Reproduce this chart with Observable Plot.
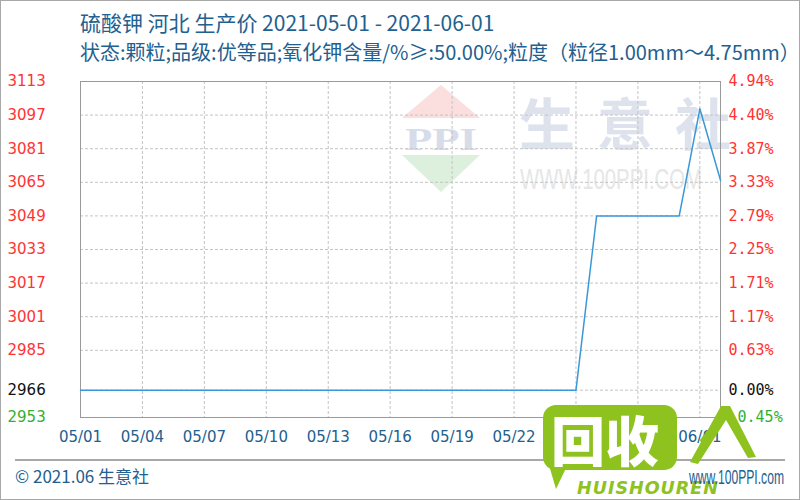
<!DOCTYPE html>
<html>
<head>
<meta charset="utf-8">
<script src="https://cdn.jsdelivr.net/npm/d3@7"></script>
<script src="https://cdn.jsdelivr.net/npm/@observablehq/plot@0.6"></script>
<style>
  html, body { margin: 0; padding: 0; background: #fff; }
  #wrap { position: relative; width: 800px; height: 500px; overflow: hidden; background: #fff; font-family: "Noto Sans CJK SC", "Noto Sans", sans-serif; }
  #chart { position: absolute; left: 0; top: 0; z-index: 2; }
  #wm { position: absolute; left: 0; top: 0; z-index: 1; }
  .txt { position: absolute; white-space: nowrap; color: #22608f; z-index: 3; }
  #border { position: absolute; left: 0; top: 0; width: 798px; height: 498px; border: 1px solid #a8a8a8; z-index: 6; pointer-events: none; }
  #logo { position: absolute; z-index: 4; left: 0; top: 0; }
</style>
</head>
<body>
<div id="wrap">
  <svg id="wm" width="800" height="500">
    <polygon points="441,85 480,118 402,118" fill="#fbdede"/>
    <polygon points="402,155 480,155 441,192" fill="#ddf0dd"/>
    <text x="441" y="150" text-anchor="middle" font-family="Liberation Serif" font-size="31" font-weight="bold" fill="#d6dce9" textLength="72" lengthAdjust="spacingAndGlyphs">PPI</text>
    <text x="519" y="120" dominant-baseline="central" font-family="Noto Sans CJK SC" font-size="56" font-weight="bold" letter-spacing="22" fill="#dde2ec">生意社</text>
    <text x="520" y="189" font-family="Liberation Sans Narrow, Liberation Sans" font-size="29" fill="#e6e6e6" textLength="182" lengthAdjust="spacingAndGlyphs">WWW.100PPI.COM</text>
  </svg>
  <div id="chart"></div>
  <div class="txt" style="left:80px; top:7px; font-size:21px; line-height:30px;">硫酸钾 河北 生产价 2021-05-01 - 2021-06-01</div>
  <div class="txt" style="left:80px; top:37px; font-size:20px; line-height:30px;">状态:颗粒;品级:优等品;氧化钾含量/%≥:50.00%;粒度（粒径1.00mm～4.75mm）</div>
  <div style="position:absolute; left:15px; top:459px; width:770px; height:0; border-top:2px solid #a8a8a8; z-index:3;"></div>
  <div class="txt" style="left:15px; top:463px; font-size:17px; line-height:26px;">© 2021.06 生意社</div>
  <svg id="logo" width="800" height="500">
    <g fill="#8dc21f">
      <rect x="543" y="405" width="134" height="65" rx="13"/>
      <polygon points="546,455 566,468 556,489"/>
      <text x="551" y="438" dominant-baseline="central" font-family="Noto Sans CJK SC" font-size="54" font-weight="900" fill="#ffffff">回收</text>
      <path d="M690,462 L721,406 L730,406 L756,457 L748,458 L726,420 L698,464 Z"/>
      <path d="M700,440 Q710,425 716,428 Q706,440 704,452 Z"/>
      <text x="577" y="494" font-family="DejaVu Sans" font-size="18" font-weight="bold" font-style="italic" letter-spacing="1" textLength="142" lengthAdjust="spacingAndGlyphs">HUISHOUREN</text>
    </g>
    <text x="689" y="484" font-family="Liberation Sans" font-size="21" fill="#22608f" textLength="95" lengthAdjust="spacingAndGlyphs">www.100PPI.com</text>
  </svg>
  <div id="border"></div>
</div>
<script>
// ---- data ----
const dates = ["05/01","05/02","05/03","05/04","05/05","05/06","05/07","05/08","05/09","05/10",
  "05/11","05/12","05/13","05/14","05/15","05/16","05/17","05/18","05/19","05/20",
  "05/21","05/22","05/23","05/24","05/25","05/26","05/27","05/28","05/29","05/30",
  "06/01","06/02"];
const prices = [2966,2966,2966,2966,2966,2966,2966,2966,2966,2966,
  2966,2966,2966,2966,2966,2966,2966,2966,2966,2966,
  2966,2966,2966,2966,2966,3049,3049,3049,3049,3049,
  3100,3066];
const xTickLabels = ["05/01","05/04","05/07","05/10","05/13","05/16","05/19","05/22","05/25","05/28","06/01"];
const leftTicks = [3113,3097,3081,3065,3049,3033,3017,3001,2985,2966,2953];
const rightTickLabels = ["4.94%","4.40%","3.87%","3.33%","2.79%","2.25%","1.71%","1.17%","0.63%","0.00%","-0.45%"];
const baseValue = 2966;

const series = prices.map((v, i) => ({i, date: dates[i], price: v}));
const xTicks = xTickLabels.map(l => dates.indexOf(l));
const rightTicks = leftTicks.map((v, k) => ({v, label: rightTickLabels[k]}));
const tickColor = v => v > baseValue ? "#ff3333" : v < baseValue ? "#33b033" : "#111111";

const chart = Plot.plot({
  width: 800,
  height: 500,
  marginLeft: 80,
  marginRight: 80,
  marginTop: 81,
  marginBottom: 83,
  style: {background: "transparent", overflow: "visible"},
  x: {domain: [0, dates.length - 1], axis: null},
  y: {domain: [2953, 3113], axis: null},
  color: {type: "identity"},
  marks: [
    Plot.gridX(xTicks.filter(t => t > 0), {stroke: "#c4c4c4", strokeOpacity: 1, strokeDasharray: "3,2"}),
    Plot.gridY(leftTicks, {stroke: "#c4c4c4", strokeOpacity: 1, strokeDasharray: "3,2"}),
    Plot.frame({stroke: "#9a9a9a"}),
    Plot.line(series, {x: "i", y: "price", stroke: "#3a98d8", strokeWidth: 1.5}),
    Plot.text(leftTicks, {y: d => d, text: d => String(d), frameAnchor: "left", dx: -73, textAnchor: "start",
      fill: d => tickColor(d), fontSize: 15, fontFamily: "DejaVu Sans"}),
    Plot.text(rightTicks, {y: "v", text: "label", frameAnchor: "right", dx: 8, textAnchor: "start",
      fill: d => tickColor(d.v), fontSize: 15, fontFamily: "DejaVu Sans Mono"}),
    Plot.text(xTicks, {x: d => d, text: d => dates[d], frameAnchor: "bottom", dy: 24,
      fill: "#22608f", fontSize: 15, fontFamily: "DejaVu Sans"})
  ]
});
document.getElementById("chart").appendChild(chart);
</script>
</body>
</html>
